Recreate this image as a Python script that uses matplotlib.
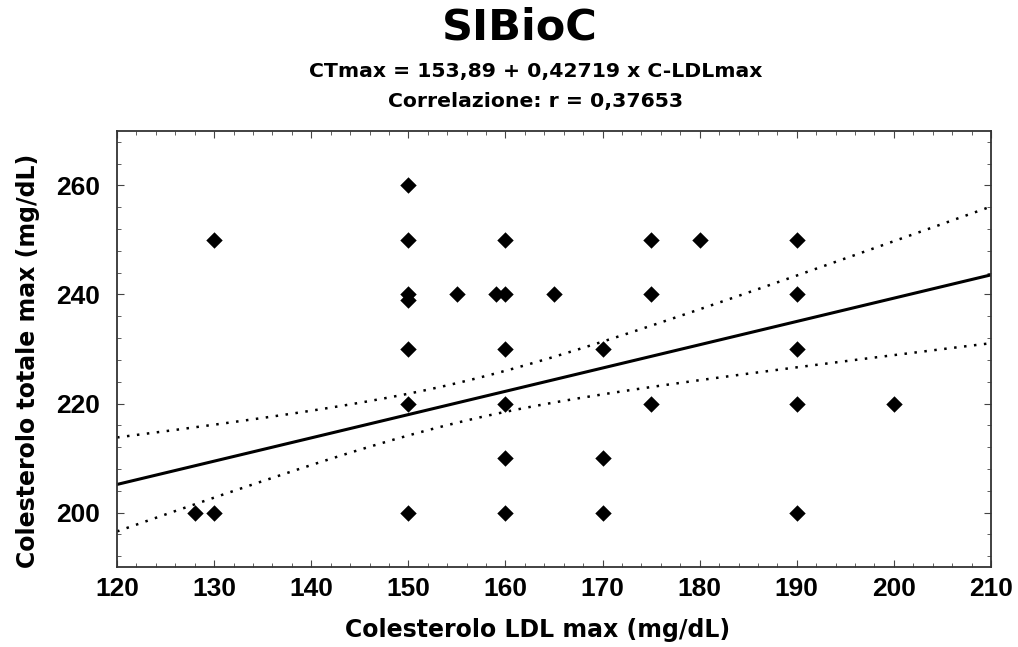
import numpy as np
import matplotlib
matplotlib.use("Agg")
import matplotlib.pyplot as plt
from matplotlib.ticker import MultipleLocator

plt.rcParams['font.family'] = ['DejaVu Sans']

ldl = [128, 130, 130, 150, 150, 150, 150, 150, 150, 150, 155, 159,
       160, 160, 160, 160, 160, 160, 165, 170, 170, 170, 175, 175, 175,
       180, 190, 190, 190, 190, 190, 200]
ct = [200, 200, 250, 260, 250, 240, 239, 230, 220, 200, 240, 240,
      250, 240, 230, 220, 210, 200, 240, 230, 210, 200, 250, 240, 220,
      250, 250, 240, 230, 220, 200, 220]
# summary statistics of the full sample (many subjects overlap in the plot)
intercept = 153.89
slope = 0.42719
r_corr = 0.37653
n_subjects = 90
mean_ldl = 155.5
sd_ldl = 16.5
t_crit = 1.987

title = "SIBioC"
subtitle1 = "CTmax = 153,89 + 0,42719 x C-LDLmax"
subtitle2 = "Correlazione: r = 0,37653"
xlabel = "Colesterolo LDL max (mg/dL)"
ylabel = "Colesterolo totale max (mg/dL)"

x = np.array(ldl, float)
y = np.array(ct, float)
xs = np.linspace(120, 210, 200)
fit = intercept + slope * xs
sd_ct = slope * sd_ldl / r_corr
s_res = sd_ct * np.sqrt(1 - r_corr**2)
se = s_res * np.sqrt(1.0 / n_subjects + (xs - mean_ldl)**2 / (n_subjects * sd_ldl**2))
upper = fit + t_crit * se
lower = fit - t_crit * se

fig = plt.figure(figsize=(10.18, 6.47), dpi=100)
ax = fig.add_axes([0.115, 0.1236, 0.8585, 0.674])
ax.scatter(x, y, marker='D', s=70, color='black', zorder=3, linewidths=0)
ax.plot(xs, fit, color='black', lw=2.2)
ax.plot(xs, upper, color='black', lw=1.8, ls=(0, (1, 3)))
ax.plot(xs, lower, color='black', lw=1.8, ls=(0, (1, 3)))
ax.set_xlim(120, 210)
ax.set_ylim(190, 270)
ax.xaxis.set_major_locator(MultipleLocator(10))
ax.xaxis.set_minor_locator(MultipleLocator(2))
ax.yaxis.set_major_locator(MultipleLocator(20))
ax.yaxis.set_minor_locator(MultipleLocator(4))
ax.tick_params(which='both', direction='in', top=True, right=True, color='#444444')
ax.tick_params(which='major', length=5, labelsize=19)
ax.tick_params(axis='x', which='major', pad=7)
ax.tick_params(axis='y', which='major', pad=12)
ax.tick_params(which='minor', length=3)
for lab in ax.get_xticklabels() + ax.get_yticklabels():
    lab.set_fontweight('bold')
    lab.set_family(['Liberation Sans', 'DejaVu Sans'])
for sp in ax.spines.values():
    sp.set_linewidth(1.3)
    sp.set_color('#333333')
ax.set_xlabel(xlabel, fontsize=17, fontweight='bold')
ax.set_ylabel(ylabel, fontsize=17, fontweight='bold')
ax.xaxis.set_label_coords(0.481, -0.117)
ax.yaxis.set_label_coords(-0.088, 0.472)

fig.text(0.511, 0.957, title, ha='center', va='center', fontsize=31, fontweight='bold')
fig.text(0.526, 1 - 72 / 647, subtitle1, ha='center', va='center', fontsize=14.7,
         fontweight='bold')
fig.text(0.526, 1 - 101 / 647, subtitle2, ha='center', va='center', fontsize=14.7,
         fontweight='bold')
fig.savefig("out.png", dpi=100, facecolor='white')
